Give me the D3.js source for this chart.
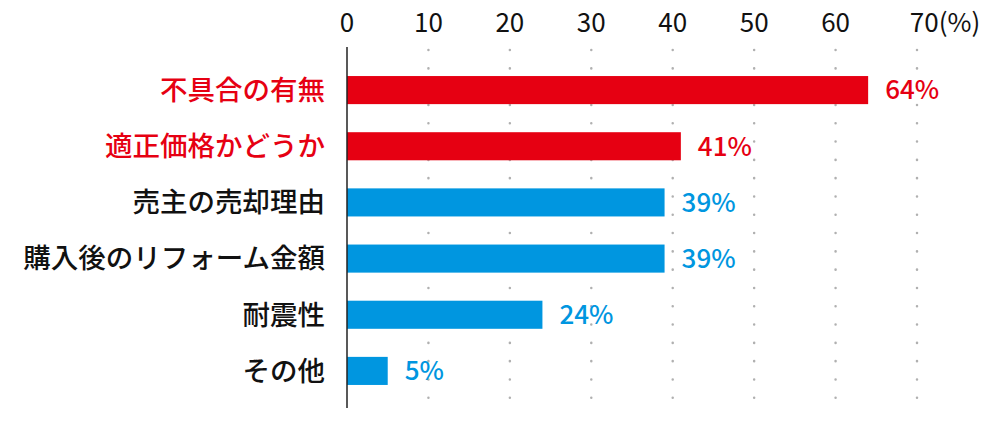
<!DOCTYPE html>
<html><head><meta charset="utf-8">
<script src="https://cdn.jsdelivr.net/npm/d3@7"></script>
<style>body{margin:0;background:#fff}</style>
</head><body>
<script>
const categories = ["不具合の有無","適正価格かどうか","売主の売却理由","購入後のリフォーム金額","耐震性","その他"];
const values = [64, 41, 39, 39, 24, 5];
const highlight = [true, true, false, false, false, false];
const ticks = [0,10,20,30,40,50,60,70];

const red = "#e60012", blue = "#0096e0";
const font = "'Noto Sans CJK JP', 'Noto Sans', sans-serif";

const svg = d3.select("body").append("svg").attr("width",1000).attr("height",421);

let x = d3.scaleLinear().domain([0,70]).range([347,917]);
let y = d3.scaleBand().domain(categories).range([62,399]).paddingInner(0.5).paddingOuter(0.25);

// dotted grid
ticks.slice(1).forEach(t=>{
  svg.append("line").attr("x1",x(t)).attr("x2",x(t)).attr("y1",50).attr("y2",408)
    .attr("stroke","#b0b0b0").attr("stroke-width",2.5).attr("stroke-linecap","round")
    .attr("stroke-dasharray","0.1 18.2");
});

svg.selectAll(".tick").data(ticks).enter().append("text")
  .attr("x",d=>x(d)).attr("y",32).attr("text-anchor","middle")
  .attr("font-family",font).attr("font-size",26).attr("fill","#111")
  .text(d=>d===70 ? "70(%)" : d)
  .attr("dx",d=>d===70 ? 28 : 0);

svg.selectAll(".bar").data(values).enter().append("rect")
  .attr("x",x(0)).attr("y",(d,i)=>y(categories[i]))
  .attr("width",d=>x(d)-x(0)).attr("height",y.bandwidth())
  .attr("fill",(d,i)=>highlight[i]?red:blue);

svg.append("line").attr("x1",x(0)).attr("x2",x(0)).attr("y1",47).attr("y2",408)
  .attr("stroke","#222").attr("stroke-width",1.5);

svg.selectAll(".cat").data(categories).enter().append("text")
  .attr("x",325).attr("y",d=>y(d)+y.bandwidth()/2).attr("dy","0.36em")
  .attr("text-anchor","end").attr("font-family",font).attr("font-size",27.5).attr("font-weight",500)
  .attr("fill",(d,i)=>highlight[i]?red:"#111").text(d=>d);

svg.selectAll(".val").data(values).enter().append("text")
  .attr("x",d=>x(d)+17).attr("y",(d,i)=>y(categories[i])+y.bandwidth()/2).attr("dy","0.36em")
  .attr("font-family",font).attr("font-size",26).attr("font-weight",500)
  .attr("fill",(d,i)=>highlight[i]?red:blue).text(d=>d+"%");
</script>
</body></html>
